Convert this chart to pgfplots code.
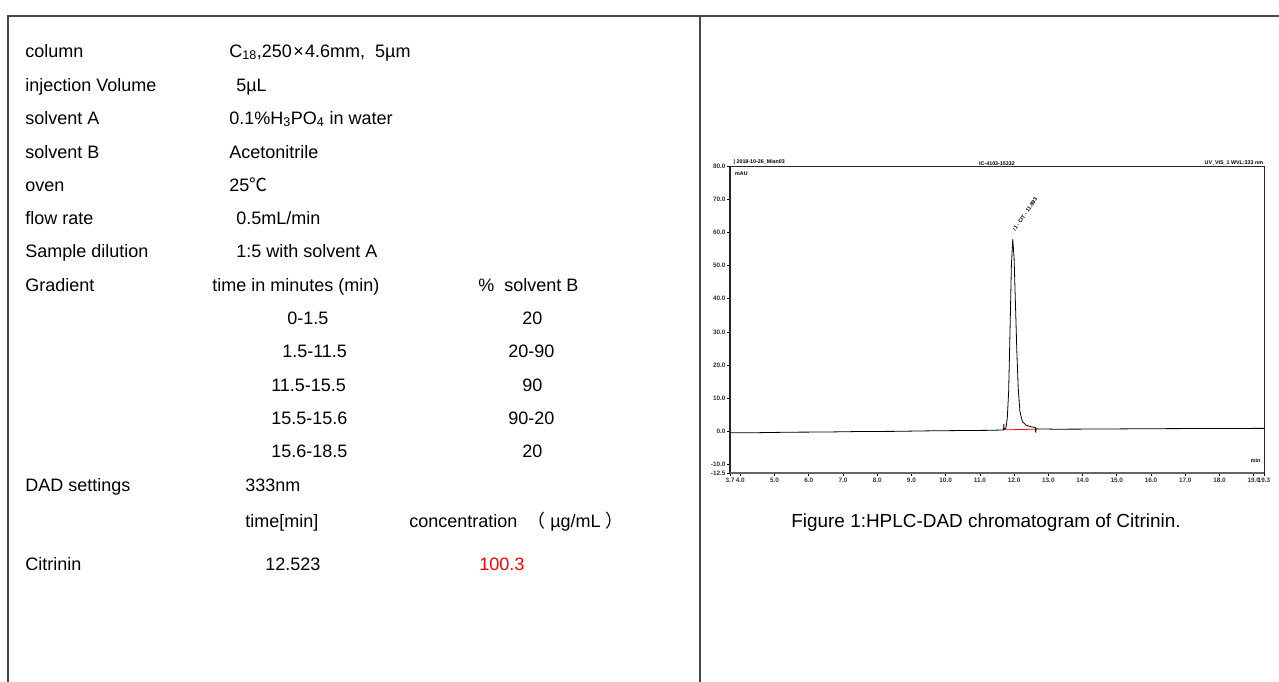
\documentclass[border=0pt]{standalone}
\usepackage{pgfplots}
\pgfplotsset{compat=1.18}
\usepackage{fontspec}
\setmainfont{Liberation Sans}
\newfontfamily\cjk{Noto Sans CJK SC}
\definecolor{framegray}{RGB}{70,70,70}
\begin{document}
\begin{tikzpicture}
\begin{scope}[x=0.75pt,y=-0.75pt]
\path[use as bounding box] (0,0) rectangle (1279,682);
\draw[line width=1.4pt, framegray] (8,682) -- (8,16) -- (1279,16);
\draw[line width=0.8pt, framegray] (700,16) -- (700,682);
\begin{scope}[every node/.style={anchor=base west, inner sep=0pt, font=\fontsize{13.5}{15}\selectfont}]
\node at (25,57) {column};
\node at (229,57) {C\textsubscript{18},250\hspace{1pt}×\hspace{1pt}4.6mm,\ \ 5µm};
\node at (25,91) {injection Volume};
\node at (236,91) {5µL};
\node at (25,124) {solvent A};
\node at (229,124) {0.1\%H\textsubscript{3}PO\textsubscript{4} in water};
\node at (25,158) {solvent B};
\node at (229,158) {Acetonitrile};
\node at (25,191) {oven};
\node at (229,191) {25{\cjk ℃}};
\node at (25,224) {flow rate};
\node at (236,224) {0.5mL/min};
\node at (25,257) {Sample dilution};
\node at (236,257) {1:5 with solvent A};
\node at (25,291) {Gradient};
\node at (212,291) {time in minutes (min)};
\node at (478,291) {\%\ \ solvent B};
\node at (287,324) {0-1.5};
\node at (522,324) {20};
\node at (282,357) {1.5-11.5};
\node at (508,357) {20-90};
\node at (271,391) {11.5-15.5};
\node at (522,391) {90};
\node at (271,424) {15.5-15.6};
\node at (508,424) {90-20};
\node at (271,457) {15.6-18.5};
\node at (522,457) {20};
\node at (25,491) {DAD settings};
\node at (245,491) {333nm};
\node at (245,527) {time[min]};
\node at (409,527) {concentration\ \ {\cjk（}\ µg/mL\ {\cjk）}};
\node at (25,570) {Citrinin};
\node at (265,570) {12.523};
\node[text=red] at (479,570) {100.3};
\node[anchor=base, font=\fontsize{14.2}{16}\selectfont] at (986,527) {Figure 1:HPLC-DAD chromatogram of Citrinin.};
\end{scope}
\end{scope}
\begin{axis}[
  at={(547.5pt,-354.75pt)}, anchor=south west,
  scale only axis, width=400.5pt, height=230.25pt,
  xmin=3.7, xmax=19.3, ymin=-12.5, ymax=80,
  xtick={3.7,4,5,6,7,8,9,10,11,12,13,14,15,16,17,18,19,19.3},
  ytick={-12.5,-10,0,10,20,30,40,50,60,70,80},
  minor x tick num=4, minor y tick num=1,
  tick align=outside, xtick pos=bottom, ytick pos=left,
  major tick length=2.2pt, minor tick length=1.3pt,
  tick style={black, line width=0.5pt},
  /pgf/number format/assume math mode=true,
  /pgf/number format/.cd, fixed, fixed zerofill, precision=1, /pgfplots/.cd,
  ticklabel style={font=\fontsize{4.8}{5}\selectfont\bfseries, text=black!80, inner sep=1pt},
  axis line style={black!85, line width=0.6pt},
  clip=false,
]
\draw[line width=1.3pt, black!85] (rel axis cs:0,0) -- (rel axis cs:0,1);
\draw[line width=1.3pt, black!60] (rel axis cs:0,0) -- (rel axis cs:1,0);
\addplot[black, line width=0.6pt] coordinates {
(3.7,-0.4)(4.5,-0.35)(5.5,-0.2)(6.5,-0.15)(7.5,0.0)(8.5,0.05)(9.5,0.2)(10.5,0.3)(11.2,0.35)
(11.65,0.45)(11.69,0.5)(11.70,2.2)(11.71,0.6)(11.76,1.0)(11.80,4)(11.84,12)(11.88,30)
(11.92,50)(11.96,58)(12.00,52)(12.04,38)(12.08,24)(12.12,13)(12.17,6)(12.24,3)
(12.35,1.9)(12.5,1.4)(12.62,1.2)(12.63,-0.3)(12.64,0.8)(13.2,0.7)(14.5,0.75)(16,0.85)(17.5,0.9)(19.3,0.95)
};
\addplot[red, line width=0.6pt] coordinates {(11.72,0.5)(12.62,0.7)};
\node[anchor=south west, font=\fontsize{4}{5}\selectfont\bfseries, inner sep=0.5pt] at (rel axis cs:0.005,1) {| 2018-10-26\_Mian03};
\node[anchor=south, font=\fontsize{4}{5}\selectfont\bfseries, inner sep=0.5pt] at (rel axis cs:0.5,1) {IC-4103-15332};
\node[anchor=south east, font=\fontsize{4}{5}\selectfont\bfseries, inner sep=0.5pt] at (rel axis cs:1,1) {UV\_VIS\_1 WVL:333 nm};
\node[anchor=north west, font=\fontsize{4}{5}\selectfont\bfseries, inner sep=0.5pt] at (rel axis cs:0.008,0.985) {mAU};
\node[anchor=south east, font=\fontsize{4}{5}\selectfont\bfseries, inner sep=0.5pt] at (rel axis cs:0.995,0.03) {min};
\node[anchor=west, rotate=55, font=\fontsize{4}{5}\selectfont\bfseries, inner sep=0.5pt] at (axis cs:11.98,60.5) {/1 - CIT - 11.893};
\end{axis}
\end{tikzpicture}
\end{document}
